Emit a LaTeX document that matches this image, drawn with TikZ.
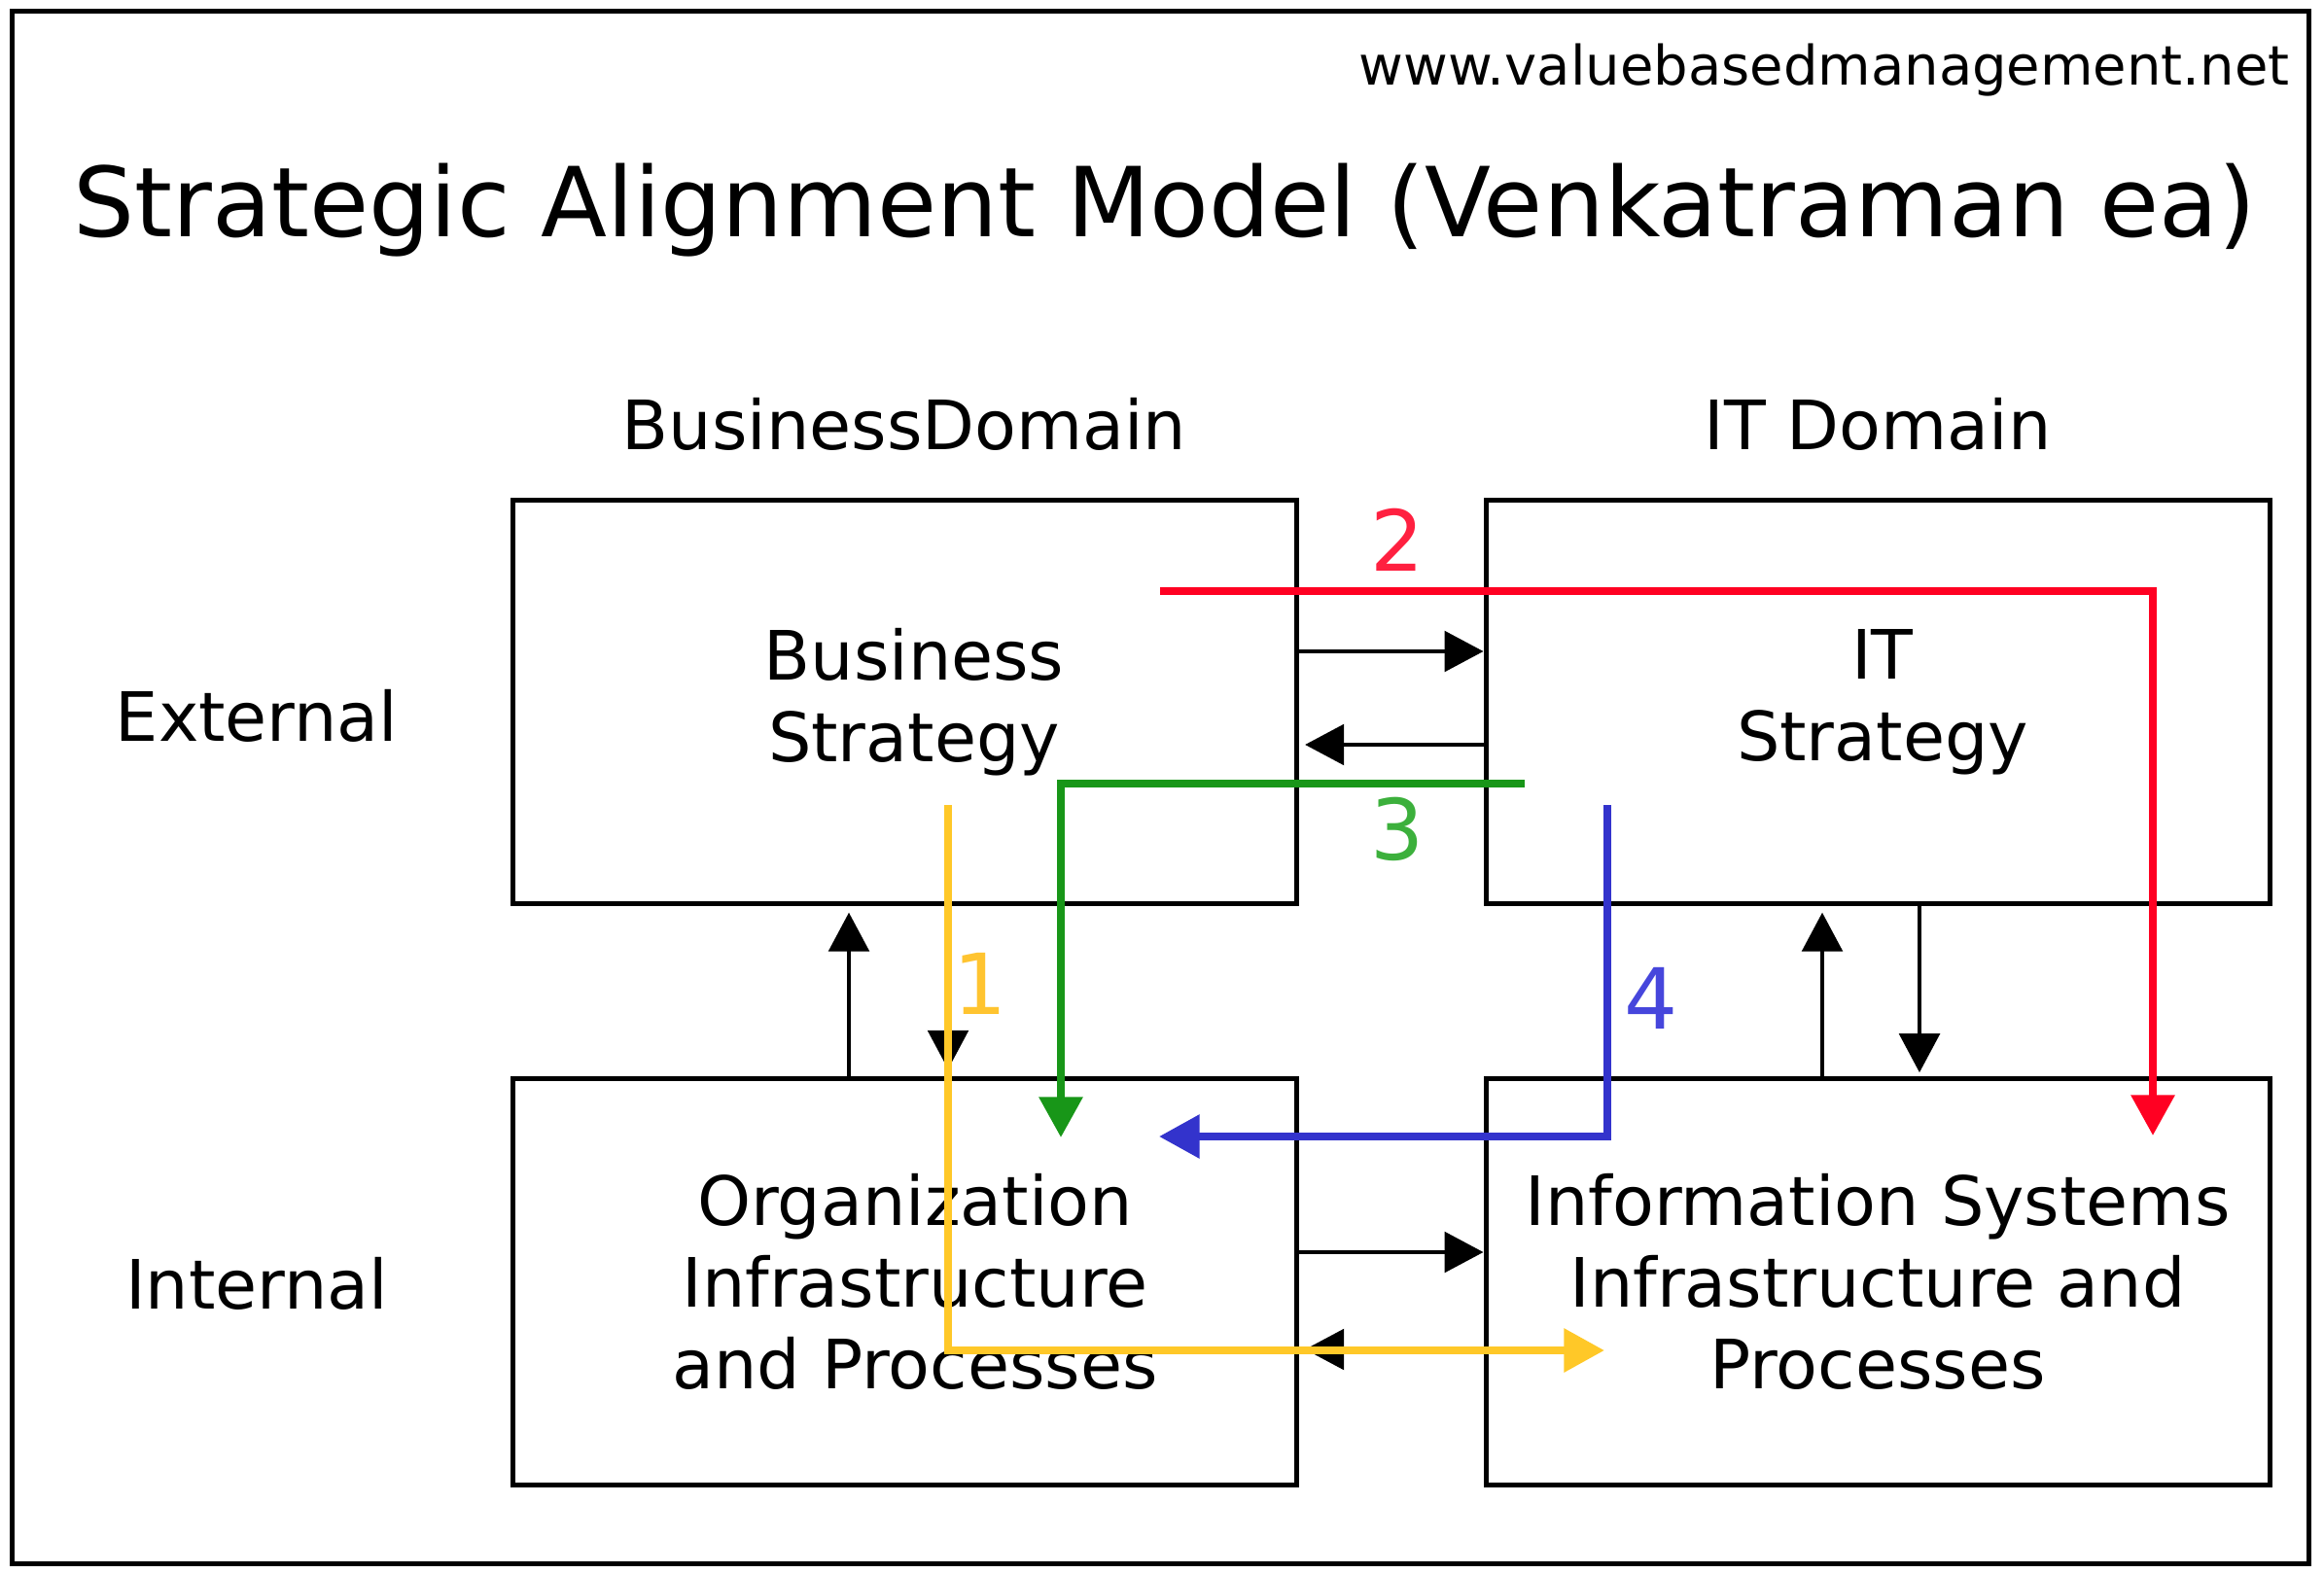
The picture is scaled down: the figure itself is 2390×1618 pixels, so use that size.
\documentclass[tikz,border=0pt]{standalone}
\usepackage{fontspec}
\setmainfont{DejaVu Sans}
\usetikzlibrary{arrows.meta}
\definecolor{cred}{RGB}{255,0,34}
\definecolor{cgreen}{RGB}{24,150,24}
\definecolor{cblue}{RGB}{51,51,204}
\definecolor{cyellow}{RGB}{255,200,40}
\definecolor{lred}{RGB}{255,32,64}
\definecolor{lgreen}{RGB}{60,176,60}
\definecolor{lblue}{RGB}{70,70,220}
\definecolor{lyellow}{RGB}{255,196,48}
\begin{document}
\begin{tikzpicture}[x=0.3pt,y=-0.3pt,
  box/.style={draw=black,line width=1.5pt,minimum width=241.8pt,minimum height=124.5pt,inner sep=0pt,align=center,font=\fontsize{21}{25.2}\selectfont},
  lbl/.style={inner sep=0pt,font=\fontsize{21}{25.2}\selectfont,anchor=base},
  blk/.style={line width=1.1pt,-{Triangle[length=12pt,width=12.5pt]}},
  clr/.style={line width=2.5pt,-{Triangle[length=12.5pt,width=13pt]}},
  num/.style={inner sep=0pt,font=\fontsize{26}{30}\selectfont}]
\useasboundingbox (0,0) rectangle (2390,1618);
\draw[line width=1.5pt] (12,12) rectangle (2374,1608);

\node[inner sep=0pt,anchor=base east,font=\fontsize{16.8}{20}\selectfont] (url) at (2355,88) {www.valuebasedmanagement.net};
\node[inner sep=0pt,anchor=base,font=\fontsize{29.8}{34}\selectfont] (title) at (1198,244) {Strategic Alignment Model (Venkatraman ea)};

\node[lbl] (bd) at (930,462) {BusinessDomain};
\node[lbl] (itd) at (1931,462) {IT Domain};
\node[lbl] (ext) at (264,762) {External};
\node[lbl] (int) at (264,1346) {Internal};

\node[box] (bs) at (930,722) {\hspace*{6pt}Business\\\hspace*{6pt}Strategy};
\node[box] (it) at (1931,722) {\hspace*{3pt}IT\\\hspace*{3pt}Strategy};
\node[box,minimum height=125.4pt] (org) at (930,1318) {\hspace*{6.6pt}Organization\\\hspace*{6.6pt}Infrastructure\\\hspace*{6.6pt}and Processes};
\node[box,minimum height=125.4pt] (is) at (1931,1318) {Information Systems\\Infrastructure and\\Processes};

% level coordinates
\coordinate (ya) at (0,670);
\coordinate (yb) at (0,766);
\coordinate (yc) at (0,1288);
\coordinate (yd) at (0,1388);
\coordinate (xa) at (873,0);
\coordinate (xb) at (975,0);
\coordinate (xc) at (1874,0);
\coordinate (xd) at (1974,0);

% black connectors
\draw[blk] (bs.east |- ya) -- (it.west |- ya);
\draw[blk,shorten >=2pt] (it.west |- yb) -- (bs.east |- yb);
\draw[blk] (org.east |- yc) -- (is.west |- yc);
\draw[blk,shorten >=2pt] (is.west |- yd) -- (org.east |- yd);
\draw[blk,shorten >=2pt] (xa |- org.north) -- (xa |- bs.south);
\draw[blk,shorten >=2pt] (xb |- bs.south) -- (xb |- org.north);
\draw[blk,shorten >=2pt] (xc |- is.north) -- (xc |- it.south);
\draw[blk,shorten >=1pt] (xd |- it.south) -- (xd |- is.north);

% coloured paths
\coordinate (r1) at (1193,608);
\coordinate (r2) at (2214,1168);
\coordinate (g1) at (1568,806);
\coordinate (g2) at (1091,1170);
\coordinate (b1) at (1653,828);
\coordinate (b2) at (1192,1169);
\coordinate (y1) at (975,828);
\coordinate (y2) at (1650,1389);

\draw[clr,cred] (r1) -| (r2);
\draw[clr,cgreen] (g1) -| (g2);
\draw[clr,cblue] (b1) |- (b2);
\draw[clr,cyellow] (y1) |- (y2);

\node[num,text=lred] (n2) at (1437,555) {2};
\node[num,text=lgreen] (n3) at (1437,853) {3};
\node[num,text=lblue] (n4) at (1698,1027) {4};
\node[num,text=lyellow] (n1) at (1008,1012) {1};
\end{tikzpicture}
\end{document}
